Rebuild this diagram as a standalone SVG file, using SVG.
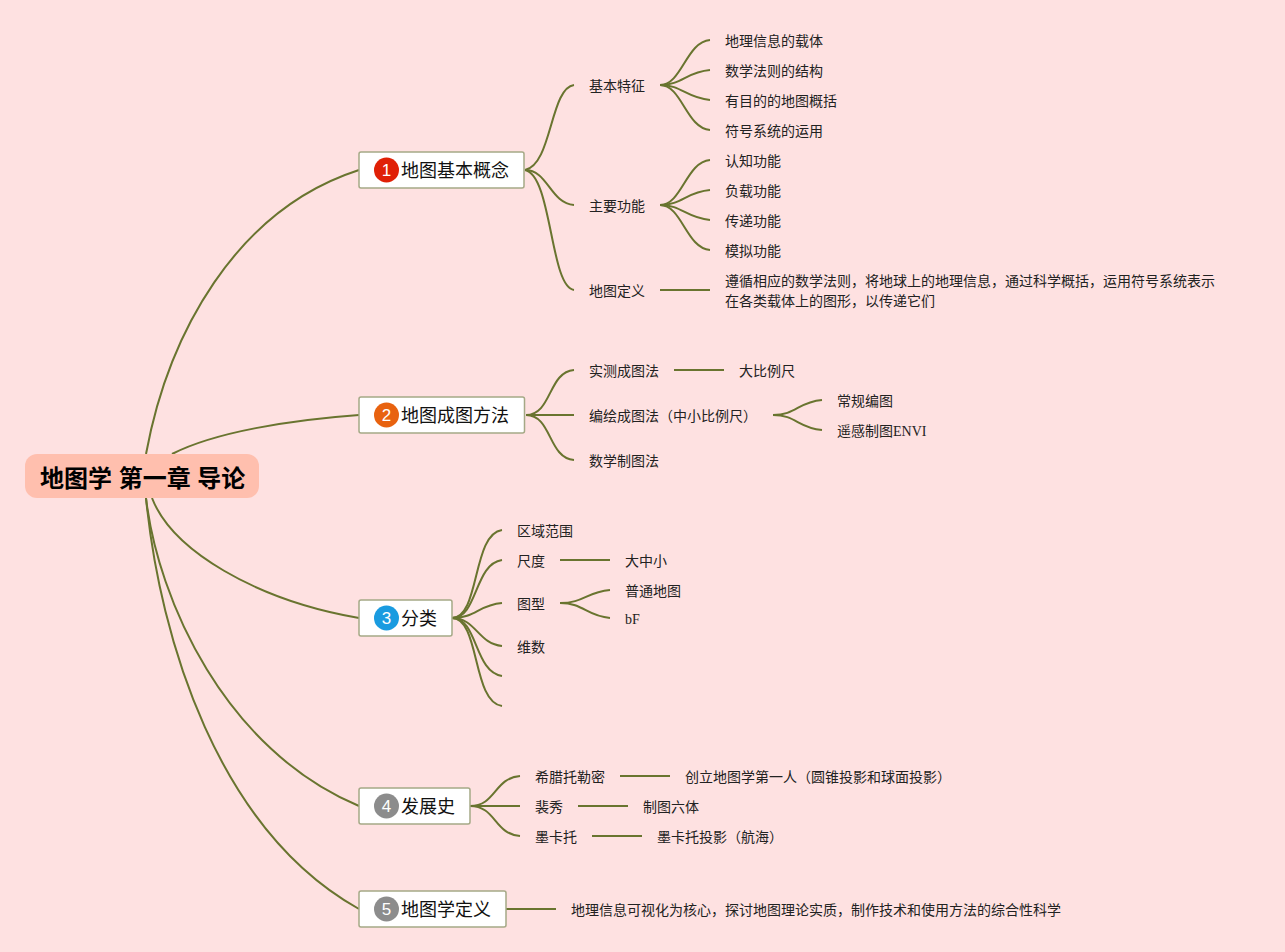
<svg xmlns="http://www.w3.org/2000/svg" width="1285" height="952" viewBox="0 0 1285 952">
<style>
text{font-family:"Liberation Serif","Noto Sans CJK SC",serif;fill:#222;dominant-baseline:central}
.l{font-size:14px}
.t{font-size:18px;font-family:"Liberation Sans","Noto Sans CJK SC",sans-serif;fill:#111}
.n{font-size:17px;font-family:"Liberation Sans",sans-serif;fill:#fff;text-anchor:middle}
.b{fill:#fff;stroke:#a5a986;stroke-width:1.5}
#connectors path{fill:none;stroke:#69742f;stroke-width:2}
</style>
<rect width="1285" height="952" fill="#fee1e1"/>
<g id="connectors">
<path d="M146 454C168 335 235 210 359 170"/>
<path d="M172 454C215 432 290 420 359 415"/>
<path d="M152 498C172 550 255 600 359 618"/>
<path d="M146 498C158 600 225 750 359 806"/>
<path d="M146 498C160 640 218 830 359 909"/>
<path d="M525 170C552 165 550 88 574 85"/>
<path d="M525 170C548 170 550 203 574 205"/>
<path d="M525 170C552 175 550 287 574 290"/>
<path d="M660 85C682 85 686 42 710 40"/>
<path d="M660 85C682 85 686 72 710 70"/>
<path d="M660 85C682 85 686 98 710 100"/>
<path d="M660 85C682 85 686 128 710 130"/>
<path d="M660 205C682 205 686 162 710 160"/>
<path d="M660 205C682 205 686 192 710 190"/>
<path d="M660 205C682 205 686 218 710 220"/>
<path d="M660 205C682 205 686 248 710 250"/>
<path d="M660 290H710"/>
<path d="M526 415C552 415 548 372 574 370"/>
<path d="M526 415H574"/>
<path d="M526 415C552 415 548 458 574 460"/>
<path d="M674 370H724"/>
<path d="M773 415C796 415 798 402 822 400"/>
<path d="M773 415C796 415 798 428 822 430"/>
<path d="M452 618C480 618 472 534 502 530"/>
<path d="M452 618C478 618 474 564 502 560"/>
<path d="M452 618C476 618 478 605 502 603"/>
<path d="M452 618C476 618 478 644 502 646"/>
<path d="M452 618C478 618 474 672 502 676"/>
<path d="M452 618C480 618 472 702 502 706"/>
<path d="M560 560H610"/>
<path d="M560 603C584 603 586 592 610 590"/>
<path d="M560 603C584 603 586 616 610 618"/>
<path d="M470 806C496 806 494 778 520 776"/>
<path d="M470 806H520"/>
<path d="M470 806C496 806 494 834 520 836"/>
<path d="M620 776H670"/>
<path d="M578 806H628"/>
<path d="M592 836H642"/>
<path d="M506 909H556"/>
</g>
<g id="root"><rect x="25" y="454" width="234" height="44" rx="12" fill="#ffbfae"/><text x="40" y="478" style="font-size:24px;font-weight:700;font-family:'Liberation Sans','Noto Sans CJK SC',sans-serif;fill:#000">地图学 第一章 导论</text></g>
<g id="topic1"><rect class="b" x="359" y="152" width="165" height="36" rx="2"/><circle cx="386.500" cy="170" r="12.500" fill="#e02006"/><text class="n" x="386.500" y="170">1</text><text class="t" x="401" y="171">地图基本概念</text></g>
<g id="topic2"><rect class="b" x="359" y="397" width="165.500" height="36" rx="2"/><circle cx="386.500" cy="415" r="12.500" fill="#e8620f"/><text class="n" x="386.500" y="415">2</text><text class="t" x="401" y="416">地图成图方法</text></g>
<g id="topic3"><rect class="b" x="359" y="600" width="93" height="36" rx="2"/><circle cx="386.500" cy="618" r="12.500" fill="#1a9be0"/><text class="n" x="386.500" y="618">3</text><text class="t" x="401" y="619">分类</text></g>
<g id="topic4"><rect class="b" x="359" y="788" width="111" height="36" rx="2"/><circle cx="386.500" cy="806" r="12.500" fill="#8c8c8c"/><text class="n" x="386.500" y="806">4</text><text class="t" x="401" y="807">发展史</text></g>
<g id="topic5"><rect class="b" x="359" y="891" width="147" height="36" rx="2"/><circle cx="386.500" cy="909" r="12.500" fill="#8c8c8c"/><text class="n" x="386.500" y="909">5</text><text class="t" x="401" y="910">地图学定义</text></g>
<g id="n11"><text class="l" x="589" y="86">基本特征</text></g>
<g id="n111"><text class="l" x="725" y="41">地理信息的载体</text></g>
<g id="n112"><text class="l" x="725" y="71">数学法则的结构</text></g>
<g id="n113"><text class="l" x="725" y="101">有目的的地图概括</text></g>
<g id="n114"><text class="l" x="725" y="131">符号系统的运用</text></g>
<g id="n12"><text class="l" x="589" y="206">主要功能</text></g>
<g id="n121"><text class="l" x="725" y="161">认知功能</text></g>
<g id="n122"><text class="l" x="725" y="191">负载功能</text></g>
<g id="n123"><text class="l" x="725" y="221">传递功能</text></g>
<g id="n124"><text class="l" x="725" y="251">模拟功能</text></g>
<g id="n13"><text class="l" x="589" y="291">地图定义</text></g>
<g id="n131"><text class="l" x="725" y="281">遵循相应的数学法则，将地球上的地理信息，通过科学概括，运用符号系统表示</text><text class="l" x="725" y="301">在各类载体上的图形，以传递它们</text></g>
<g id="n21"><text class="l" x="589" y="371">实测成图法</text></g>
<g id="n211"><text class="l" x="739" y="371">大比例尺</text></g>
<g id="n22"><text class="l" x="589" y="416">编绘成图法（中小比例尺）</text></g>
<g id="n221"><text class="l" x="837" y="401">常规编图</text></g>
<g id="n222"><text class="l" x="837" y="431">遥感制图ENVI</text></g>
<g id="n23"><text class="l" x="589" y="461">数学制图法</text></g>
<g id="n31"><text class="l" x="517" y="531">区域范围</text></g>
<g id="n32"><text class="l" x="517" y="561">尺度</text></g>
<g id="n321"><text class="l" x="625" y="561">大中小</text></g>
<g id="n33"><text class="l" x="517" y="604">图型</text></g>
<g id="n331"><text class="l" x="625" y="591">普通地图</text></g>
<g id="n332"><text class="l" x="625" y="619">bF</text></g>
<g id="n34"><text class="l" x="517" y="647">维数</text></g>
<g id="n41"><text class="l" x="535" y="777">希腊托勒密</text></g>
<g id="n411"><text class="l" x="685" y="777">创立地图学第一人（圆锥投影和球面投影）</text></g>
<g id="n42"><text class="l" x="535" y="807">裴秀</text></g>
<g id="n421"><text class="l" x="643" y="807">制图六体</text></g>
<g id="n43"><text class="l" x="535" y="837">墨卡托</text></g>
<g id="n431"><text class="l" x="657" y="837">墨卡托投影（航海）</text></g>
<g id="n51"><text class="l" x="571" y="910">地理信息可视化为核心，探讨地图理论实质，制作技术和使用方法的综合性科学</text></g>
</svg>
